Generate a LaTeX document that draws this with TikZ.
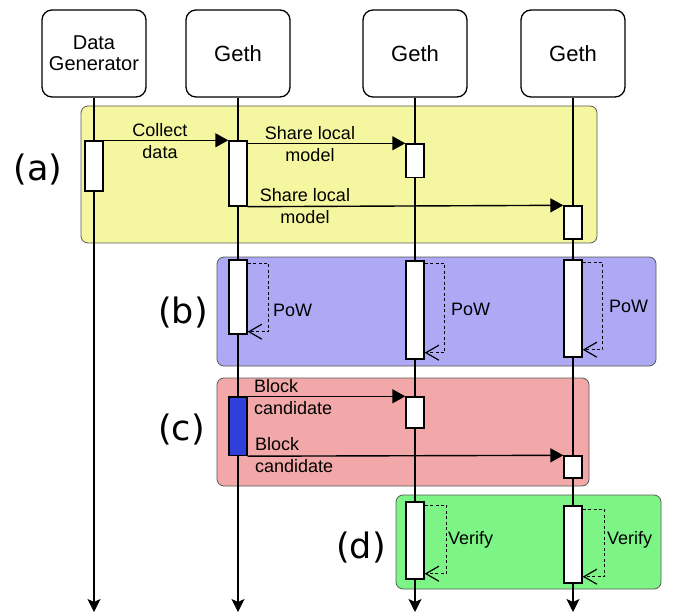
\documentclass[tikz,border=0pt]{standalone}
\usepackage{fontspec}
\setmainfont{Liberation Sans}
\newfontfamily\tagfont{DejaVu Sans}
\usetikzlibrary{arrows.meta}
\definecolor{phaseA}{HTML}{F5F6A0}
\definecolor{phaseB}{HTML}{ADA9F5}
\definecolor{phaseC}{HTML}{F2A8A8}
\definecolor{phaseD}{HTML}{7DF586}
\definecolor{blockblue}{HTML}{2E40D8}
\begin{document}
\begin{tikzpicture}[x=1pt,y=-1pt,
  head/.style={draw,rounded corners=10pt,line width=1.3pt,minimum width=104pt,minimum height=87pt,align=center},
  act/.style={draw,fill=white,line width=1.4pt,inner sep=0pt,minimum width=18pt},
  phase/.style={draw=black!65,line width=0.8pt,rounded corners=7pt},
  life/.style={line width=1.2pt,-{Stealth[length=13pt,width=13pt,inset=3pt]}},
  msg/.style={line width=1.4pt,-{Triangle[length=13pt,width=14pt]}},
  selfloop/.style={line width=1.2pt,dash pattern=on 3pt off 2.5pt,-{Straight Barb[length=13pt,width=15pt,line width=1.2pt]}},
  lbl/.style={font=\fontsize{18}{22}\selectfont,inner sep=0pt},
  tag/.style={font=\tagfont\fontsize{35}{40}\selectfont,inner sep=0pt}]
\useasboundingbox (0,0) rectangle (674,612);

% phases
\fill[phaseA,phase] (81,106) rectangle (597,243);
\fill[phaseB,phase] (217,257) rectangle (656,366);
\fill[phaseC,phase] (217,378) rectangle (589,486);
\fill[phaseD,phase] (396,495) rectangle (661,589);

% participants
\node[head,font=\fontsize{20}{21}\selectfont] (dg) at (94,53.5) {Data\\Generator};
\node[head,font=\fontsize{22}{24}\selectfont] (geth1) at (238,53.5) {Geth};
\node[head,font=\fontsize{22}{24}\selectfont] (geth2) at (415,53.5) {Geth};
\node[head,font=\fontsize{22}{24}\selectfont] (geth3) at (573,53.5) {Geth};

\coordinate (dgEnd) at (94,612);
\coordinate (geth1End) at (238,612);
\coordinate (geth2End) at (415,612);
\coordinate (geth3End) at (573,612);
\draw[life] (dg) -- (dgEnd);
\draw[life] (geth1) -- (geth1End);
\draw[life] (geth2) -- (geth2End);
\draw[life] (geth3) -- (geth3End);

% activations
\node[act,minimum height=50pt] (dgA) at (94,166) {};
\node[act,minimum height=65pt] (g1A) at (238,173.5) {};
\node[act,minimum height=33.5pt] (g2A) at (415,160.75) {};
\node[act,minimum height=33pt] (g3A) at (573,222.5) {};

\node[act,minimum height=74pt] (g1B) at (238,297) {};
\node[act,minimum height=98pt] (g2B) at (415,310) {};
\node[act,minimum height=97pt] (g3B) at (573,308.5) {};

\node[act,fill=blockblue,minimum height=58.5pt] (g1C) at (238,426.25) {};
\node[act,minimum height=31pt] (g2C) at (415,412.5) {};
\node[act,minimum height=22pt] (g3C) at (573,467) {};

\node[act,minimum height=77pt] (g2D) at (415,540.5) {};
\node[act,minimum height=77pt] (g3D) at (573,544.5) {};

% messages
\draw[msg] (dgA.north east) -- (g1A.north west);
\draw[msg] (g1A.east |- g2A.north) -- (g2A.north west);
\draw[msg] (g1A.south east) -- (g3A.north west);
\draw[msg] (g1C.north east) -- (g2C.north west);
\draw[msg] (g1C.south east) -- (g3C.north west);

\draw[selfloop] ([yshift=-4pt]g1B.north east) -- ++(21,0) |- ([yshift=3pt]g1B.south east);
\draw[selfloop] ([yshift=-3pt]g2B.north east) -- ++(20,0) |- ([yshift=7pt]g2B.south east);
\draw[selfloop] ([yshift=-3pt]g3B.north east) -- ++(20,0) |- ([yshift=8pt]g3B.south east);
\draw[selfloop] ([yshift=-4pt]g2D.north east) -- ++(22,0) |- ([yshift=6pt]g2D.south east);
\draw[selfloop] ([yshift=-4pt]g3D.north east) -- ++(22,0) |- ([yshift=7pt]g3D.south east);

% labels
\node[lbl,align=center] (collect) at (160,141) {Collect\\data};
\node[lbl,align=center] (share1) at (310,144) {Share local\\model};
\node[lbl,align=center] (share2) at (305,206) {Share local\\model};
\node[lbl,align=left,anchor=west] (block1) at (254,397) {Block\\candidate};
\node[lbl,align=left,anchor=west] (block2) at (255,455.5) {Block\\candidate};
\node[lbl,anchor=west] (pow1) at (273,310) {PoW};
\node[lbl,anchor=west] (pow2) at (451,309) {PoW};
\node[lbl,anchor=west] (pow3) at (609,306) {PoW};
\node[lbl,anchor=west] (verify1) at (448,540) {Verify};
\node[lbl,anchor=west] (verify2) at (607,540) {Verify};

\node[tag] (tagA) at (38,170) {(a)};
\node[tag] (tagB) at (183,313) {(b)};
\node[tag] (tagC) at (181.5,430) {(c)};
\node[tag] (tagD) at (361,548) {(d)};
\end{tikzpicture}
\end{document}
